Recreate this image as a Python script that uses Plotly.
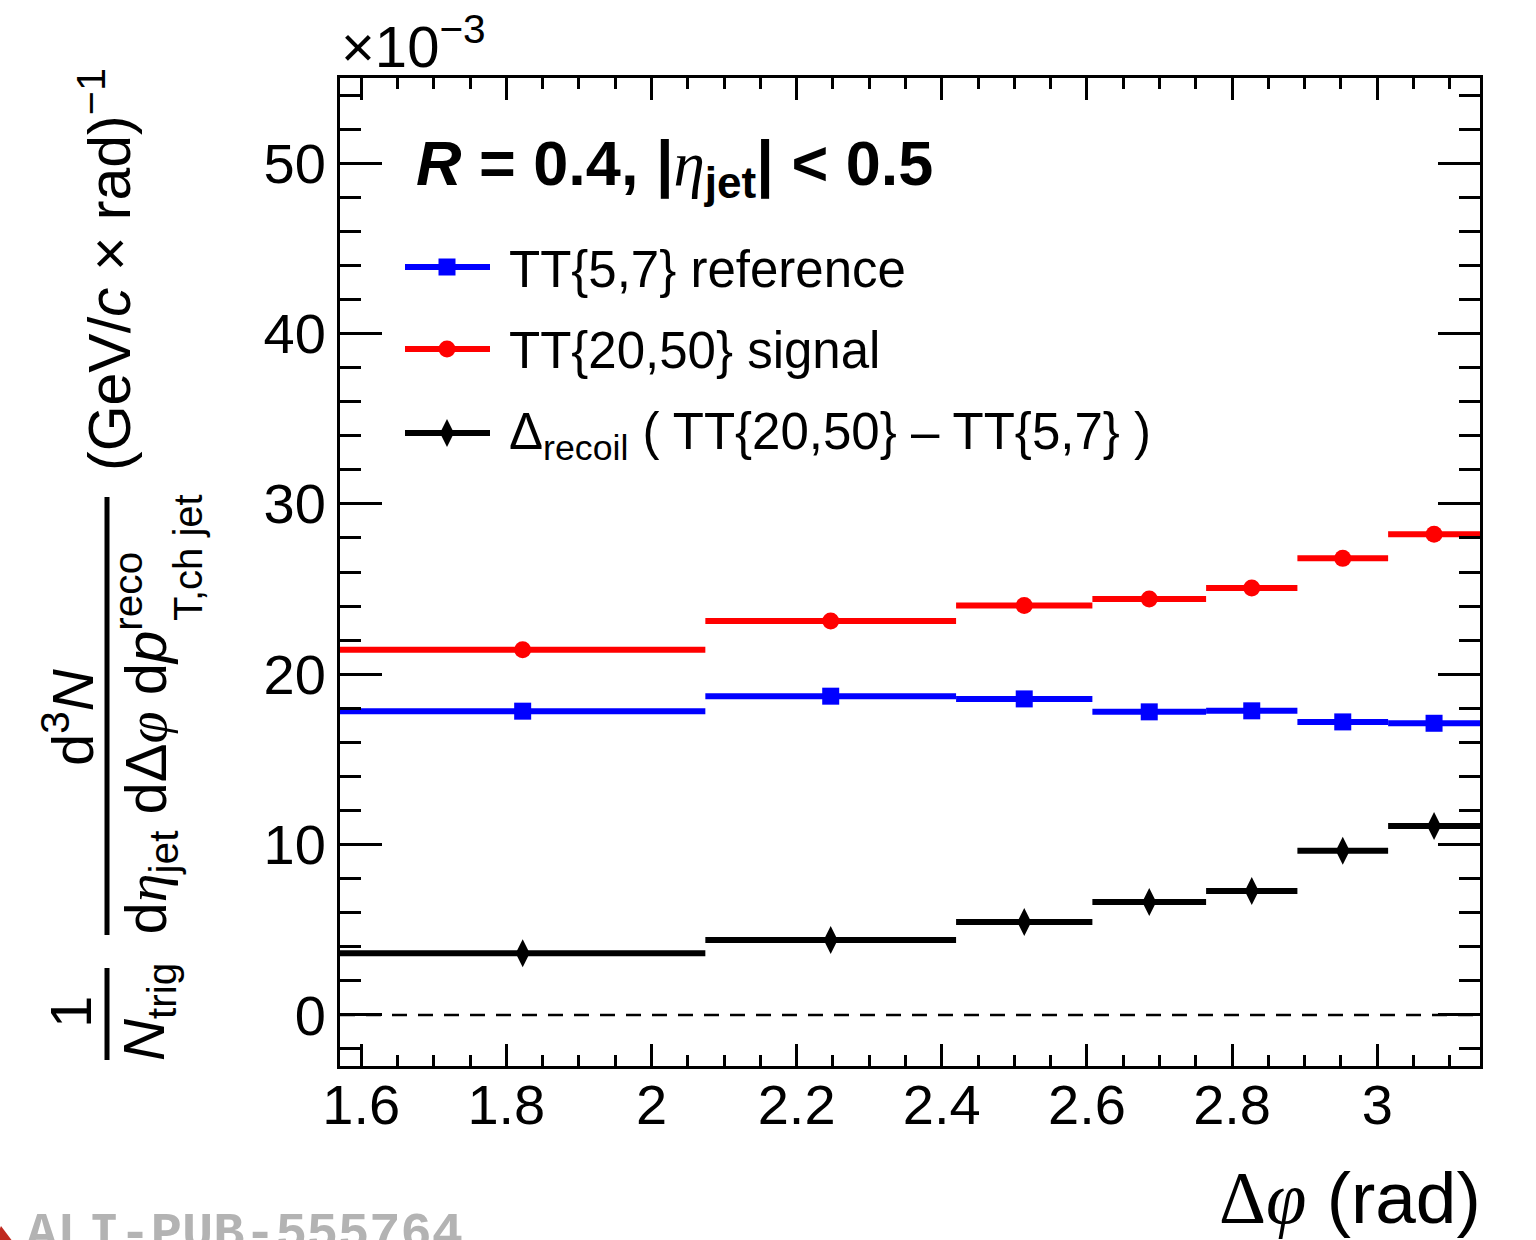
import plotly.graph_objects as go

# ---------------- data (values in units of 1e-3) ----------------
bin_edges = [1.5708, 2.0742, 2.4197, 2.6075, 2.7642, 2.8900, 3.0150, 3.1416]
ref_vals = [17.83, 18.71, 18.55, 17.79, 17.85, 17.20, 17.12]      # TT{5,7} reference
sig_vals = [21.44, 23.13, 24.03, 24.42, 25.06, 26.80, 28.22]      # TT{20,50} signal
recoil_vals = [3.62, 4.40, 5.45, 6.63, 7.28, 9.64, 11.09]         # Delta_recoil

x_tick_vals = [1.6, 1.8, 2.0, 2.2, 2.4, 2.6, 2.8, 3.0]
x_tick_text = ["1.6", "1.8", "2", "2.2", "2.4", "2.6", "2.8", "3"]
y_tick_vals = [0, 10, 20, 30, 40, 50]
y_tick_text = ["0", "10", "20", "30", "40", "50"]

legend_labels = [
    "TT{5,7} reference",
    "TT{20,50} signal",
    "Δ<sub>recoil</sub> ( TT{20,50} – TT{5,7} )",
]

# ---------------- derived ----------------
centers = [(a + b) / 2 for a, b in zip(bin_edges[:-1], bin_edges[1:])]
halfw = [(b - a) / 2 for a, b in zip(bin_edges[:-1], bin_edges[1:])]

W, H = 1536, 1240
L, R, T, B = 340, 1480, 78, 1066


def px(x):
    return (x - L) / (R - L)


def py(y):
    return (B - y) / (B - T)


SANS = "Liberation Sans"
SERIF = "Liberation Serif"

fig = go.Figure()

series = [
    (ref_vals, "#0000ff", "square", 17),
    (sig_vals, "#ff0000", "circle", 17),
    (recoil_vals, "#000000", "diamond-tall", 20),
]
for vals, col, sym, sz in series:
    fig.add_trace(go.Scatter(
        x=centers, y=vals, mode="markers",
        marker=dict(color=col, symbol=sym, size=sz, line=dict(width=0)),
        error_x=dict(type="data", array=halfw, symmetric=True, color=col,
                     thickness=6, width=0),
        showlegend=False, cliponaxis=True, hoverinfo="skip",
    ))

# manual legend symbols on an overlay axis (0..1 over the plot area)
leg_rows_px = [267, 349, 433]
for (vals, col, sym, sz), yy in zip(series, leg_rows_px):
    ly = py(yy)
    fig.add_trace(go.Scatter(
        x=[px(405), px(490)], y=[ly, ly], mode="lines",
        line=dict(color=col, width=6), xaxis="x2", yaxis="y2",
        showlegend=False, hoverinfo="skip"))
    fig.add_trace(go.Scatter(
        x=[px(447)], y=[ly], mode="markers",
        marker=dict(color=col, symbol=sym, size=sz), xaxis="x2", yaxis="y2",
        showlegend=False, hoverinfo="skip"))

annotations = []
for lab, yy in zip(legend_labels, leg_rows_px):
    annotations.append(dict(
        text=lab, x=px(507), y=py(yy + 2), xref="paper", yref="paper",
        xanchor="left", yanchor="middle", showarrow=False,
        font=dict(family=SANS, size=51, color="black")))

# Title label R = 0.4
annotations.append(dict(
    text=("<b><i>R</i> = 0.4, |</b><span style='font-family:Liberation Serif'><i>η</i></span>"
          "<b><sub>jet</sub>| &lt; 0.5</b>"),
    x=px(414), y=py(167), xref="paper", yref="paper",
    xanchor="left", yanchor="middle", showarrow=False,
    font=dict(family=SANS, size=63, color="black")))

# x10^-3
annotations.append(dict(
    text="×10<sup>−3</sup>", x=px(339), y=py(4), xref="paper", yref="paper",
    xanchor="left", yanchor="top", showarrow=False,
    font=dict(family=SANS, size=58, color="black")))

# x-axis title
annotations.append(dict(
    text="<span style='font-family:Liberation Serif'>Δ<i>φ</i></span> (rad)",
    x=px(1483), y=py(1198), xref="paper", yref="paper",
    xanchor="right", yanchor="middle", showarrow=False,
    font=dict(family=SANS, size=73, color="black")))

# y-axis title pieces (rotated)
YT = 58
def yann(text, x, y, size=YT, xanchor="center", yanchor="middle"):
    annotations.append(dict(
        text=text, x=px(x), y=py(y), xref="paper", yref="paper",
        xanchor=xanchor, yanchor=yanchor, textangle=-90, showarrow=False,
        font=dict(family=SANS, size=size, color="black")))

yann("1", 70, 1012)
yann("<i>N</i><sub>trig</sub>", 148, 1012)
yann("d<sup>3</sup><i>N</i>", 68, 718)
yann("d<span style='font-family:Liberation Serif'><i>η</i></span><sub>jet</sub> "
     "dΔ<span style='font-family:Liberation Serif'><i>φ</i></span> d<i>p</i><sup>reco</sup>",
     146, 937, yanchor="bottom")
yann("T,ch jet", 188, 558, size=40)
yann("(GeV/<i>c</i> × rad)<sup>−1</sup>", 106, 270, size=59)

# ALICE logo text
annotations.append(dict(
    text="<b>ALI-PUB-555764</b>", x=px(24), y=py(1203), xref="paper", yref="paper",
    xanchor="left", yanchor="top", showarrow=False,
    font=dict(family="Liberation Mono", size=52, color="#b3b3b3")))

shapes = [
    # zero dashed line
    dict(type="line", xref="x", yref="y", x0=bin_edges[0], x1=bin_edges[-1], y0=0, y1=0,
         line=dict(color="black", width=2.5, dash="15px,11px"), layer="below"),
    # fraction bars
    dict(type="line", xref="paper", yref="paper", x0=px(107), x1=px(107),
         y0=py(968), y1=py(1060), line=dict(color="black", width=5)),
    dict(type="line", xref="paper", yref="paper", x0=px(107), x1=px(107),
         y0=py(497), y1=py(935), line=dict(color="black", width=5)),
    # red logo corner
    dict(type="path", xref="paper", yref="paper",
         path=f"M {px(-6)},{py(1242)} L {px(1)},{py(1226)} L {px(13)},{py(1242)} Z",
         fillcolor="#c0281e", line=dict(width=0)),
]

axis_common = dict(
    showline=True, linecolor="black", linewidth=3, mirror="allticks",
    ticks="inside", tickcolor="black", tickwidth=3,
    showgrid=False, zeroline=False,
    tickfont=dict(family=SANS, size=56, color="black"),
)

fig.update_layout(
    width=W, height=H, autosize=False,
    margin=dict(l=L, r=W - R, t=T, b=H - B, pad=0),
    paper_bgcolor="white", plot_bgcolor="white",
    showlegend=False,
    xaxis=dict(range=[bin_edges[0], bin_edges[-1]], tickmode="array",
               tickvals=x_tick_vals, ticktext=x_tick_text, ticklen=22,
               minor=dict(dtick=0.05, tick0=0, ticks="inside", ticklen=11,
                          tickwidth=3, tickcolor="black"),
               ticklabelstandoff=-12, **axis_common),
    yaxis=dict(range=[-3, 55], tickmode="array", tickvals=y_tick_vals,
               ticktext=y_tick_text, ticklen=42,
               minor=dict(dtick=2, tick0=0, ticks="inside", ticklen=21,
                          tickwidth=3, tickcolor="black"),
               ticklabelstandoff=0, **axis_common),
    xaxis2=dict(overlaying="x", range=[0, 1], visible=False, anchor="y2"),
    yaxis2=dict(overlaying="y", range=[0, 1], visible=False, anchor="x2"),
    annotations=annotations, shapes=shapes,
)

fig.write_html("out.html")
